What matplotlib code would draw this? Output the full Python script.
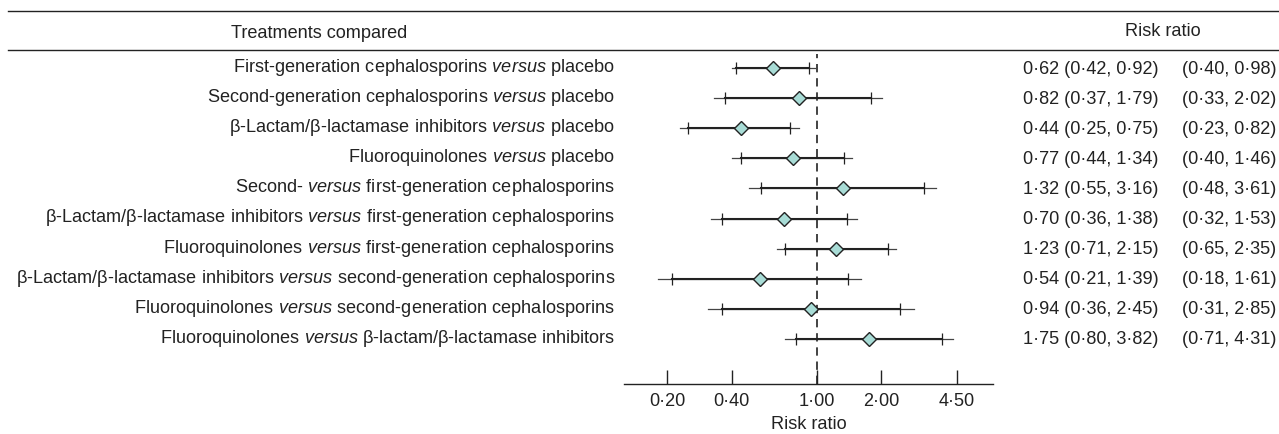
import numpy as np
import matplotlib
matplotlib.use('Agg')
import matplotlib.pyplot as plt
from matplotlib.transforms import blended_transform_factory

plt.rcParams['font.family'] = ['Liberation Sans', 'DejaVu Sans']
plt.rcParams['mathtext.fontset'] = 'custom'
plt.rcParams['mathtext.rm'] = 'Liberation Sans'
plt.rcParams['mathtext.it'] = 'Liberation Sans:italic'

# Data
comparisons = [
    r"First-generation cephalosporins $\it{versus}$ placebo",
    r"Second-generation cephalosporins $\it{versus}$ placebo",
    r"β-Lactam/β-lactamase inhibitors $\it{versus}$ placebo",
    r"Fluoroquinolones $\it{versus}$ placebo",
    r"Second- $\it{versus}$ first-generation cephalosporins",
    r"β-Lactam/β-lactamase inhibitors $\it{versus}$ first-generation cephalosporins",
    r"Fluoroquinolones $\it{versus}$ first-generation cephalosporins",
    r"β-Lactam/β-lactamase inhibitors $\it{versus}$ second-generation cephalosporins",
    r"Fluoroquinolones $\it{versus}$ second-generation cephalosporins",
    r"Fluoroquinolones $\it{versus}$ β-lactam/β-lactamase inhibitors",
]
rr = [0.62, 0.82, 0.44, 0.77, 1.32, 0.70, 1.23, 0.54, 0.94, 1.75]
ci_low = [0.42, 0.37, 0.25, 0.44, 0.55, 0.36, 0.71, 0.21, 0.36, 0.80]
ci_high = [0.92, 1.79, 0.75, 1.34, 3.16, 1.38, 2.15, 1.39, 2.45, 3.82]
pi_low = [0.40, 0.33, 0.23, 0.40, 0.48, 0.32, 0.65, 0.18, 0.31, 0.71]
pi_high = [0.98, 2.02, 0.82, 1.46, 3.61, 1.53, 2.35, 1.61, 2.85, 4.31]
xticks = [0.20, 0.40, 1.00, 2.00, 4.50]


def fmt(v):
    return f"{v:.2f}".replace('.', '·')


FS = 13.1
W, H = 1279, 435
fig = plt.figure(figsize=(W / 100, H / 100), dpi=100)

# axes placed in pixel terms of the reference
x0, x1, y_top, y_bot = 624, 993, 55, 385
ax = fig.add_axes([x0 / W, 1 - y_bot / H, (x1 - x0) / W, (y_bot - y_top) / H])
ax.set_xscale('log')
px_per_log = 93.0
ax.set_xlim(np.exp((x0 - 817) / px_per_log), np.exp((x1 - 817) / px_per_log))

row_gap = 30.1
ax.set_ylim((y_bot - 69) / row_gap, (y_top - 69) / row_gap)

ys = np.arange(len(rr))
for i in range(len(rr)):
    ax.plot([pi_low[i], pi_high[i]], [ys[i], ys[i]], color='#444444', lw=0.9, zorder=2)
    ax.plot([ci_low[i], ci_high[i]], [ys[i], ys[i]], color='#222222', lw=1.5, zorder=3)
    ax.plot([ci_low[i], ci_high[i]], [ys[i], ys[i]], ls='none', marker='|', ms=8,
            mew=0.9, color='#222222', zorder=3)
ax.plot(rr, ys, ls='none', marker='D', ms=7.2, mfc='#a8dcd6', mec='#222222',
        mew=1.0, zorder=5)

ax.axvline(1.0, color='#222222', lw=1.2, dashes=(5, 3.5), zorder=1)

for s in ['top', 'right', 'left']:
    ax.spines[s].set_visible(False)
ax.spines['bottom'].set_linewidth(1.0)
ax.spines['bottom'].set_color('#222222')
ax.set_yticks([])
ax.set_xticks(xticks)
ax.set_xticklabels([fmt(t) for t in xticks], fontsize=FS, color='#222222')
ax.xaxis.set_minor_locator(matplotlib.ticker.NullLocator())
ax.tick_params(axis='x', direction='in', length=10, width=1.0, pad=6, color='#222222')
ax.set_xlabel('Risk ratio', fontsize=FS, color='#222222', labelpad=4)
ax.patch.set_visible(False)

# left labels and right-hand values
tr = blended_transform_factory(fig.transFigure, ax.transData)
for i in range(len(rr)):
    ax.text(615 / W, ys[i] - 0.05, comparisons[i], transform=tr, ha='right', va='center',
            fontsize=FS, color='#222222', clip_on=False)
    ax.text(1023 / W, ys[i], f"{fmt(rr[i])} ({fmt(ci_low[i])}, {fmt(ci_high[i])})",
            transform=tr, ha='left', va='center', fontsize=FS, color='#222222', clip_on=False)
    ax.text(1182 / W, ys[i], f"({fmt(pi_low[i])}, {fmt(pi_high[i])})",
            transform=tr, ha='left', va='center', fontsize=FS, color='#222222', clip_on=False)

# header
fig.add_artist(plt.Line2D([8 / W, 1], [1 - 12 / H, 1 - 12 / H], color='#222222', lw=1.0))
fig.add_artist(plt.Line2D([8 / W, 1], [1 - 51 / H, 1 - 51 / H], color='#222222', lw=1.0))
fig.text(319 / W, 1 - 33 / H, 'Treatments compared', ha='center', va='center',
         fontsize=FS, color='#222222')
fig.text(1163 / W, 1 - 31 / H, 'Risk ratio', ha='center', va='center',
         fontsize=FS, color='#222222')

fig.savefig('out.png', dpi=100)
